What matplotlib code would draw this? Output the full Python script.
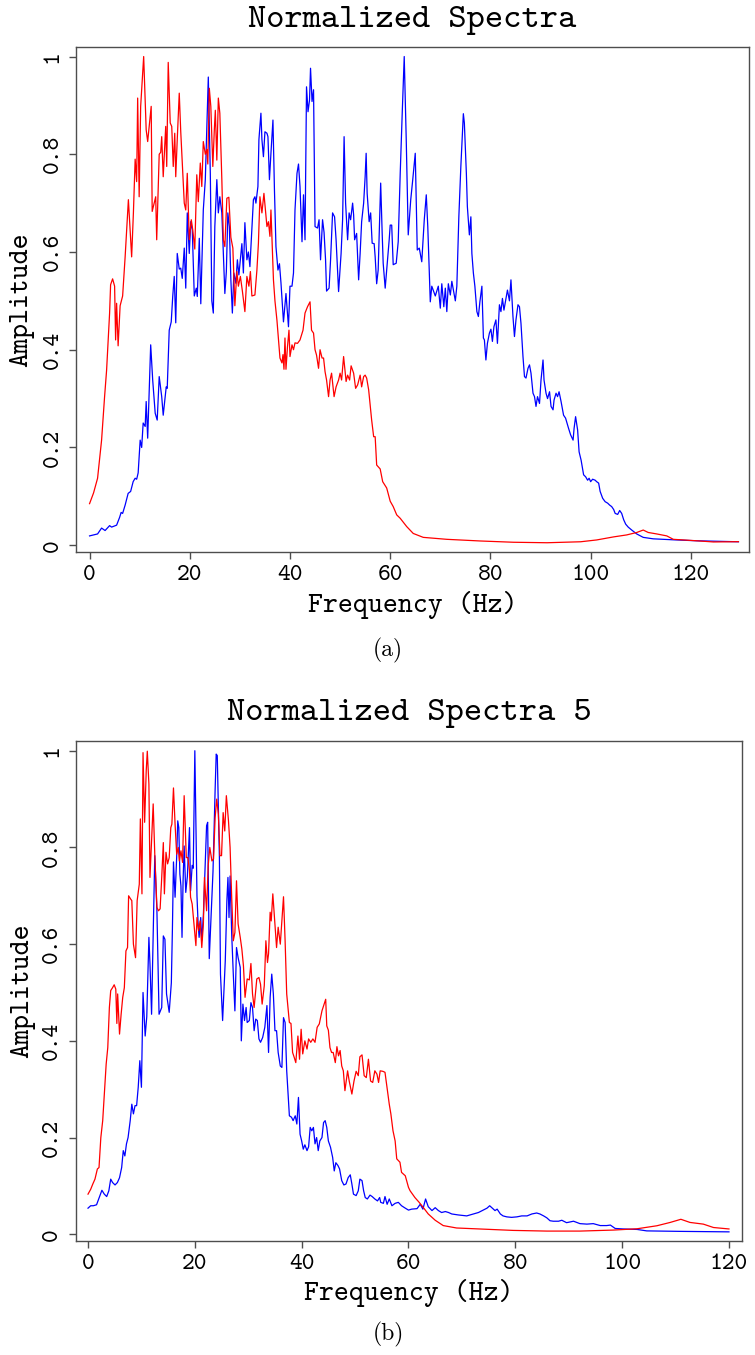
import numpy as np
import matplotlib
matplotlib.use("Agg")
import matplotlib.pyplot as plt

# ---- data (frequency in Hz, normalized amplitude) ----
# panel (a), red spectrum
a_red_f = [0.0, 0.8, 1.6, 2.4, 3.0, 3.4, 4.0, 4.2, 4.6, 5.0, 5.2, 5.4, 5.7, 6.1, 6.6, 7.1, 7.75, 8.4, 8.75, 9.1,
           9.4, 9.6, 9.9, 10.2, 10.8, 11.3, 11.6, 12.3, 12.5, 12.9, 13.2, 13.4, 13.9, 14.2, 14.4, 14.7, 15.2, 15.4,
           15.7, 16.1, 16.4, 16.7, 17.0, 17.2, 17.5, 17.9, 18.2, 18.5, 18.9, 19.2, 19.5, 19.9, 20.3, 20.6, 21.0,
           21.4, 21.7, 22.1, 22.4, 22.7, 23.1, 23.4, 23.6, 23.9, 24.2, 24.6, 24.9, 25.1, 25.4, 25.7, 26.0, 26.4,
           26.7, 27.0, 27.4, 27.8, 28.2, 28.6, 29.0, 29.4, 29.7, 30.1, 30.5, 31.0, 31.4, 31.8, 32.1, 32.4, 33.0,
           33.4, 33.7, 34.0, 34.4, 34.8, 35.4, 35.7, 36.0, 36.2, 36.7, 37.0, 37.4, 38.0, 38.4, 38.6, 38.8, 39.0,
           39.2, 39.5, 39.8, 40.0, 40.4, 40.7, 41.0, 41.5, 42.0, 42.6, 43.0, 43.5, 44.0, 44.3, 44.7, 45.0, 45.3,
           45.7, 46.0, 46.4, 46.7, 47.0, 47.3, 47.7, 48.0, 48.3, 48.8, 49.2, 49.7, 50.0, 50.3, 50.7, 51.2, 51.5,
           51.9, 52.2, 52.7, 53.1, 53.5, 54.0, 54.3, 54.7, 55.0, 55.3, 55.7, 56.0, 56.3, 56.7, 57.0, 57.3, 58.0,
           58.5, 59.3, 60.0, 60.6, 61.3, 62.0, 63.3, 64.6, 66.6, 71.3, 78.0, 84.6, 91.3, 98.0, 101.2, 104.6,
           107.2, 109.2, 110.5, 111.5, 113.2, 115.2, 116.5, 121.2, 124.5, 129.5]
a_red_v = [0.085, 0.107, 0.137, 0.215, 0.304, 0.358, 0.475, 0.533, 0.545, 0.53, 0.42, 0.495, 0.408, 0.49, 0.51,
           0.59, 0.707, 0.59, 0.68, 0.79, 0.744, 0.915, 0.713, 0.898, 1.0, 0.85, 0.826, 0.898, 0.683, 0.70, 0.713,
           0.625, 0.80, 0.804, 0.836, 0.754, 0.857, 0.775, 0.988, 0.864, 0.857, 0.775, 0.843, 0.754, 0.83, 0.925,
           0.846, 0.783, 0.70, 0.686, 0.761, 0.625, 0.666, 0.645, 0.606, 0.758, 0.703, 0.782, 0.734, 0.826, 0.80,
           0.81, 0.78, 0.935, 0.898, 0.775, 0.85, 0.89, 0.788, 0.915, 0.884, 0.748, 0.625, 0.611, 0.71, 0.712,
           0.63, 0.608, 0.49, 0.56, 0.53, 0.55, 0.52, 0.478, 0.55, 0.53, 0.56, 0.51, 0.512, 0.563, 0.618, 0.713,
           0.68, 0.72, 0.652, 0.662, 0.632, 0.686, 0.543, 0.50, 0.46, 0.383, 0.373, 0.39, 0.36, 0.424, 0.36,
           0.406, 0.44, 0.386, 0.41, 0.40, 0.414, 0.413, 0.42, 0.44, 0.475, 0.488, 0.498, 0.44, 0.434, 0.40,
           0.389, 0.362, 0.40, 0.383, 0.383, 0.355, 0.338, 0.304, 0.338, 0.352, 0.304, 0.324, 0.338, 0.352,
           0.338, 0.386, 0.335, 0.348, 0.338, 0.367, 0.352, 0.321, 0.328, 0.348, 0.324, 0.345, 0.348, 0.342,
           0.318, 0.287, 0.256, 0.222, 0.222, 0.164, 0.156, 0.13, 0.117, 0.09, 0.079, 0.062, 0.055, 0.038, 0.024,
           0.016, 0.012, 0.0086, 0.006, 0.005, 0.007, 0.0107, 0.017, 0.021, 0.026, 0.031, 0.026, 0.023, 0.019,
           0.012, 0.009, 0.0066, 0.0072]

# panel (a), blue spectrum
a_blue_f = [0.0, 0.8, 1.6, 2.4, 3.1, 4.0, 4.4, 5.4, 6.0, 6.3, 6.6, 7.1, 7.7, 8.2, 8.7, 9.1, 9.4, 9.7, 10.1, 10.4,
            10.7, 11.1, 11.3, 11.6, 11.9, 12.2, 12.6, 13.1, 13.5, 13.9, 14.4, 14.7, 15.3, 15.5, 15.9, 16.3, 16.6,
            16.9, 17.2, 17.5, 17.9, 18.2, 18.5, 18.9, 19.2, 19.5, 19.9, 20.2, 20.5, 20.9, 21.3, 21.5, 21.9, 22.2,
            22.7, 23.1, 23.4, 23.7, 24.1, 24.4, 24.7, 25.0, 25.4, 25.7, 26.0, 26.4, 26.7, 27.0, 27.3, 27.6, 27.9,
            28.2, 28.5, 28.8, 29.2, 29.5, 29.8, 30.2, 30.4, 30.7, 31.0, 31.4, 31.7, 32.0, 32.4, 32.7, 33.0, 33.2,
            33.6, 33.8, 34.2, 34.4, 34.7, 35.0, 35.4, 35.6, 35.9, 36.2, 36.6, 36.9, 37.2, 37.6, 37.9, 38.2, 38.7,
            39.2, 39.7, 40.0, 40.4, 40.7, 41.0, 41.4, 41.7, 42.0, 42.4, 42.7, 43.0, 43.3, 43.6, 43.9, 44.1, 44.4,
            44.7, 45.0, 45.5, 45.8, 46.1, 46.5, 46.8, 47.1, 47.3, 47.8, 48.1, 48.5, 48.9, 49.2, 49.7, 50.2, 50.5,
            50.8, 51.1, 51.5, 51.8, 52.1, 52.5, 52.7, 52.9, 53.3, 53.7, 54.0, 54.3, 54.7, 55.0, 55.2, 55.4, 55.8,
            56.1, 56.4, 56.8, 57.0, 57.3, 57.6, 58.1, 58.4, 58.6, 59.0, 59.4, 59.8, 60.0, 60.3, 60.6, 61.2, 61.6,
            62.0, 62.4, 62.8, 63.2, 63.6, 64.1, 64.5, 65.0, 65.4, 65.8, 66.3, 66.8, 67.2, 67.5, 68.0, 68.3, 69.0,
            69.6, 70.0, 70.3, 70.7, 71.0, 71.3, 71.6, 72.0, 72.3, 73.0, 73.3, 73.7, 74.1, 74.6, 74.8, 75.2, 75.4,
            75.8, 76.1, 76.3, 76.6, 76.9, 77.3, 77.6, 77.9, 78.3, 78.6, 78.8, 79.1, 79.4, 79.8, 80.1, 80.4, 80.7,
            81.1, 81.4, 81.8, 82.1, 82.4, 82.7, 83.1, 83.4, 83.8, 84.1, 84.5, 84.8, 85.1, 85.5, 85.8, 86.1, 86.5,
            86.8, 87.1, 87.5, 87.8, 88.1, 88.5, 88.8, 89.1, 89.4, 89.8, 90.1, 90.5, 90.7, 91.1, 91.4, 91.8, 92.1,
            92.5, 92.7, 93.1, 93.4, 93.7, 94.1, 94.6, 95.0, 95.6, 96.0, 96.5, 96.7, 97.0, 97.4, 97.7, 98.1, 98.6,
            99.0, 99.4, 99.7, 100.0, 100.4, 100.9, 101.2, 101.6, 101.9, 102.4, 102.9, 103.4, 103.8, 104.2, 104.6,
            104.9, 105.4, 105.8, 106.2, 106.6, 107.0, 107.5, 108.2, 109.2, 110.5, 112.5, 116.5, 121.2, 129.5]
a_blue_v = [0.019, 0.021, 0.023, 0.035, 0.03, 0.04, 0.037, 0.041, 0.057, 0.067, 0.065, 0.082, 0.106, 0.11, 0.13,
            0.137, 0.135, 0.148, 0.215, 0.20, 0.25, 0.243, 0.294, 0.219, 0.318, 0.41, 0.338, 0.27, 0.256, 0.345,
            0.304, 0.266, 0.324, 0.321, 0.44, 0.457, 0.509, 0.55, 0.455, 0.597, 0.565, 0.567, 0.546, 0.608, 0.526,
            0.68, 0.597, 0.662, 0.645, 0.51, 0.526, 0.509, 0.628, 0.494, 0.686, 0.748, 0.85, 0.958, 0.761, 0.50,
            0.475, 0.652, 0.748, 0.68, 0.713, 0.68, 0.597, 0.515, 0.56, 0.68, 0.652, 0.543, 0.475, 0.557, 0.536,
            0.584, 0.553, 0.597, 0.617, 0.557, 0.66, 0.584, 0.60, 0.57, 0.649, 0.707, 0.713, 0.70, 0.734, 0.83,
            0.884, 0.83, 0.795, 0.846, 0.843, 0.836, 0.748, 0.802, 0.87, 0.727, 0.611, 0.563, 0.576, 0.537, 0.457,
            0.515, 0.447, 0.53, 0.53, 0.557, 0.686, 0.761, 0.78, 0.734, 0.621, 0.717, 0.625, 0.938, 0.887, 0.911,
            0.976, 0.908, 0.932, 0.652, 0.649, 0.666, 0.584, 0.666, 0.64, 0.584, 0.52, 0.526, 0.584, 0.68, 0.672,
            0.625, 0.519, 0.597, 0.666, 0.836, 0.70, 0.625, 0.68, 0.666, 0.70, 0.676, 0.625, 0.638, 0.543, 0.597,
            0.662, 0.70, 0.754, 0.802, 0.72, 0.662, 0.68, 0.618, 0.617, 0.59, 0.535, 0.563, 0.741, 0.638, 0.577,
            0.526, 0.576, 0.625, 0.655, 0.655, 0.574, 0.577, 0.621, 0.761, 0.884, 1.0, 0.83, 0.635, 0.707, 0.748,
            0.802, 0.604, 0.608, 0.58, 0.666, 0.717, 0.652, 0.498, 0.53, 0.51, 0.53, 0.485, 0.535, 0.488, 0.526,
            0.478, 0.535, 0.512, 0.54, 0.50, 0.53, 0.672, 0.775, 0.883, 0.864, 0.761, 0.693, 0.635, 0.672, 0.597,
            0.557, 0.53, 0.478, 0.468, 0.498, 0.53, 0.424, 0.42, 0.379, 0.413, 0.434, 0.442, 0.417, 0.447, 0.461,
            0.413, 0.492, 0.478, 0.505, 0.481, 0.505, 0.522, 0.50, 0.543, 0.468, 0.427, 0.461, 0.492, 0.488, 0.454,
            0.386, 0.345, 0.342, 0.362, 0.369, 0.352, 0.311, 0.304, 0.284, 0.304, 0.29, 0.338, 0.379, 0.338, 0.311,
            0.30, 0.314, 0.284, 0.277, 0.297, 0.311, 0.304, 0.314, 0.294, 0.266, 0.26, 0.239, 0.226, 0.215, 0.239,
            0.263, 0.236, 0.191, 0.174, 0.144, 0.14, 0.133, 0.137, 0.13, 0.135, 0.133, 0.13, 0.127, 0.11, 0.096,
            0.089, 0.086, 0.082, 0.079, 0.073, 0.065, 0.063, 0.071, 0.065, 0.052, 0.043, 0.037, 0.031, 0.023,
            0.016, 0.013, 0.011, 0.009, 0.007]

# panel (b), red spectrum
b_red_f = [0.0, 0.5, 0.9, 1.3, 1.75, 2.06, 2.4, 2.75, 3.06, 3.4, 3.7, 4.0, 4.25, 4.6, 4.9, 5.2, 5.4, 5.55, 5.9,
           6.2, 6.5, 6.8, 7.1, 7.4, 7.6, 8.0, 8.2, 8.5, 8.9, 9.2, 9.6, 9.8, 10.1, 10.3, 10.6, 10.9, 11.1, 11.4,
           11.6, 11.9, 12.2, 12.5, 12.9, 13.2, 13.5, 13.8, 14.1, 14.3, 14.6, 14.9, 15.2, 15.5, 15.7, 16.0, 16.3,
           16.6, 16.9, 17.1, 17.4, 17.7, 18.0, 18.4, 18.7, 19.0, 19.2, 19.5, 19.9, 20.2, 20.4, 20.7, 21.0, 21.3,
           21.6, 21.8, 22.2, 22.5, 22.8, 23.2, 23.5, 23.8, 24.1, 24.4, 24.7, 25.0, 25.3, 25.6, 25.9, 26.3, 26.6,
           26.9, 27.2, 27.5, 27.8, 28.1, 28.5, 28.8, 29.1, 29.4, 29.8, 30.2, 30.5, 30.8, 31.1, 31.6, 32.0, 32.3,
           32.6, 33.0, 33.3, 33.6, 33.8, 34.1, 34.3, 34.6, 34.9, 35.3, 35.6, 36.0, 36.3, 36.6, 36.9, 37.2, 37.7,
           38.0, 38.3, 38.6, 38.9, 39.3, 39.6, 39.9, 40.2, 40.6, 41.0, 41.3, 41.7, 42.1, 42.5, 42.9, 43.3, 43.8,
           44.2, 44.5, 44.7, 45.0, 45.3, 45.6, 45.9, 46.3, 46.6, 46.9, 47.2, 47.5, 47.8, 48.1, 48.6, 48.9, 49.4,
           49.8, 50.2, 50.6, 50.9, 51.3, 51.7, 52.1, 52.5, 52.9, 53.3, 53.7, 54.1, 54.4, 54.7, 55.2, 55.6, 55.9,
           56.4, 56.7, 57.1, 57.5, 57.8, 58.4, 58.7, 59.4, 60.0, 60.3, 61.2, 62.0, 62.8, 63.7, 65.0, 66.5, 69.0,
           73.4, 79.6, 85.9, 92.1, 98.4, 102.8, 106.5, 109.0, 111.0, 112.7, 115.2, 117.1, 120.0]
b_red_v = [0.083, 0.093, 0.104, 0.114, 0.135, 0.138, 0.20, 0.235, 0.29, 0.352, 0.386, 0.469, 0.504, 0.51, 0.516,
           0.507, 0.436, 0.497, 0.414, 0.455, 0.49, 0.51, 0.586, 0.593, 0.70, 0.693, 0.69, 0.60, 0.572, 0.69, 0.724,
           0.859, 0.704, 0.996, 0.852, 0.959, 0.999, 0.931, 0.738, 0.814, 0.89, 0.786, 0.676, 0.669, 0.673, 0.738,
           0.81, 0.704, 0.79, 0.766, 0.779, 0.841, 0.848, 0.923, 0.848, 0.786, 0.80, 0.772, 0.793, 0.769, 0.907,
           0.779, 0.779, 0.752, 0.697, 0.683, 0.635, 0.597, 0.655, 0.628, 0.648, 0.593, 0.642, 0.738, 0.669, 0.762,
           0.80, 0.772, 0.776, 0.862, 0.90, 0.869, 0.783, 0.783, 0.872, 0.834, 0.907, 0.855, 0.80, 0.697, 0.607,
           0.624, 0.731, 0.642, 0.614, 0.59, 0.555, 0.49, 0.528, 0.526, 0.56, 0.497, 0.469, 0.528, 0.531, 0.517,
           0.476, 0.514, 0.607, 0.562, 0.58, 0.666, 0.648, 0.704, 0.655, 0.593, 0.635, 0.60, 0.648, 0.698, 0.607,
           0.497, 0.438, 0.436, 0.376, 0.366, 0.355, 0.41, 0.362, 0.424, 0.373, 0.40, 0.383, 0.404, 0.397, 0.404,
           0.397, 0.428, 0.435, 0.462, 0.476, 0.486, 0.431, 0.422, 0.386, 0.376, 0.376, 0.355, 0.388, 0.369, 0.38,
           0.348, 0.338, 0.297, 0.338, 0.317, 0.29, 0.317, 0.337, 0.328, 0.367, 0.371, 0.328, 0.324, 0.362, 0.317,
           0.314, 0.338, 0.331, 0.314, 0.338, 0.337, 0.335, 0.31, 0.269, 0.249, 0.214, 0.193, 0.156, 0.149, 0.128,
           0.121, 0.097, 0.09, 0.076, 0.066, 0.055, 0.042, 0.029, 0.018, 0.013, 0.011, 0.008, 0.0066, 0.0066,
           0.0087, 0.0114, 0.0176, 0.0245, 0.031, 0.0245, 0.021, 0.014, 0.011]

# panel (b), blue spectrum
b_blue_f = [0.0, 0.5, 1.0, 1.6, 2.1, 2.6, 3.05, 3.5, 3.9, 4.25, 4.6, 5.06, 5.5, 5.9, 6.3, 6.6, 6.9, 7.2, 7.5, 7.9,
            8.2, 8.5, 8.8, 9.1, 9.4, 9.7, 10.0, 10.3, 10.7, 11.0, 11.4, 11.6, 11.9, 12.5, 12.9, 13.3, 13.8, 14.1,
            14.4, 14.7, 15.2, 15.6, 15.8, 16.0, 16.3, 16.6, 16.8, 17.0, 17.2, 17.4, 17.6, 17.8, 18.0, 18.3, 18.6,
            19.0, 19.2, 19.5, 19.7, 20.0, 20.4, 20.6, 20.8, 21.1, 21.3, 21.6, 21.9, 22.2, 22.4, 22.7, 23.0, 23.4,
            23.8, 24.0, 24.2, 24.6, 24.8, 25.2, 25.7, 26.0, 26.2, 26.4, 26.6, 26.9, 27.2, 27.5, 27.8, 28.1, 28.5,
            28.7, 29.0, 29.3, 29.6, 29.8, 30.2, 30.5, 30.8, 31.1, 31.4, 31.7, 32.0, 32.3, 32.7, 33.1, 33.5, 33.8,
            34.1, 34.4, 34.7, 35.0, 35.3, 35.6, 36.0, 36.3, 36.6, 36.9, 37.2, 37.7, 38.1, 38.4, 38.8, 39.1, 39.4,
            39.7, 40.0, 40.3, 40.6, 41.0, 41.3, 41.6, 41.9, 42.2, 42.5, 42.8, 43.1, 43.4, 43.8, 44.1, 44.4, 44.7,
            45.0, 45.4, 45.8, 46.1, 46.4, 46.8, 47.1, 47.5, 47.9, 48.3, 48.7, 49.1, 49.4, 49.7, 50.2, 50.6, 50.9,
            51.3, 51.6, 51.9, 52.3, 52.8, 53.2, 53.7, 54.2, 54.6, 54.8, 55.3, 55.6, 56.0, 56.4, 56.9, 57.5, 58.1,
            58.7, 59.4, 60.0, 60.6, 61.6, 62.2, 62.7, 63.2, 63.7, 64.4, 65.0, 65.6, 66.2, 66.9, 67.5, 68.1, 69.3,
            70.9, 72.2, 73.1, 74.0, 74.7, 75.2, 75.8, 76.2, 76.6, 77.2, 77.7, 78.4, 79.3, 80.3, 81.2, 82.2, 83.1,
            84.0, 84.6, 85.3, 85.9, 86.5, 87.1, 88.1, 88.7, 89.6, 90.9, 92.1, 93.4, 94.6, 95.9, 97.1, 97.8, 98.7,
            100.2, 102.8, 104.6, 110.9, 120.0]
b_blue_v = [0.054, 0.059, 0.059, 0.061, 0.076, 0.091, 0.083, 0.078, 0.09, 0.114, 0.107, 0.102, 0.107, 0.117,
            0.138, 0.173, 0.162, 0.187, 0.20, 0.235, 0.269, 0.249, 0.266, 0.266, 0.304, 0.359, 0.304, 0.50, 0.41,
            0.45, 0.614, 0.559, 0.455, 0.783, 0.669, 0.455, 0.469, 0.617, 0.61, 0.497, 0.459, 0.52, 0.63, 0.77,
            0.697, 0.78, 0.855, 0.841, 0.745, 0.72, 0.614, 0.731, 0.803, 0.707, 0.74, 0.841, 0.71, 0.763, 0.757,
            1.0, 0.70, 0.645, 0.614, 0.655, 0.607, 0.66, 0.75, 0.845, 0.852, 0.57, 0.645, 0.75, 0.92, 0.993, 0.99,
            0.78, 0.538, 0.442, 0.566, 0.69, 0.738, 0.655, 0.741, 0.621, 0.538, 0.462, 0.593, 0.572, 0.552, 0.40,
            0.476, 0.442, 0.469, 0.438, 0.442, 0.479, 0.469, 0.421, 0.445, 0.442, 0.404, 0.397, 0.407, 0.428, 0.473,
            0.376, 0.49, 0.538, 0.497, 0.421, 0.421, 0.376, 0.348, 0.345, 0.448, 0.438, 0.338, 0.245, 0.242, 0.235,
            0.245, 0.228, 0.283, 0.207, 0.193, 0.176, 0.185, 0.173, 0.181, 0.221, 0.214, 0.221, 0.187, 0.20, 0.173,
            0.193, 0.20, 0.231, 0.235, 0.221, 0.193, 0.18, 0.159, 0.131, 0.148, 0.142, 0.135, 0.111, 0.102, 0.104,
            0.117, 0.123, 0.104, 0.083, 0.08, 0.09, 0.114, 0.111, 0.09, 0.076, 0.073, 0.081, 0.078, 0.073, 0.069,
            0.076, 0.066, 0.064, 0.078, 0.062, 0.073, 0.059, 0.064, 0.066, 0.059, 0.054, 0.05, 0.052, 0.053, 0.062,
            0.052, 0.073, 0.057, 0.049, 0.055, 0.049, 0.045, 0.047, 0.045, 0.042, 0.04, 0.038, 0.042, 0.045, 0.05,
            0.054, 0.059, 0.053, 0.049, 0.052, 0.042, 0.038, 0.036, 0.035, 0.036, 0.038, 0.038, 0.042, 0.044, 0.042,
            0.038, 0.034, 0.028, 0.027, 0.027, 0.029, 0.024, 0.027, 0.022, 0.021, 0.022, 0.018, 0.018, 0.019, 0.012,
            0.011, 0.01, 0.007, 0.006, 0.005]

titles = ["Normalized Spectra", "Normalized Spectra 5"]
captions = ["(a)", "(b)"]
xticks = [0, 20, 40, 60, 80, 100, 120]
yticks = [0, 0.2, 0.4, 0.6, 0.8, 1]
ytick_labels = ["0", "0.2", "0.4", "0.6", "0.8", "1"]

panels = [
    (a_blue_f, a_blue_v, a_red_f, a_red_v),
    (b_blue_f, b_blue_v, b_red_f, b_red_v),
]

# ---- layout ----
plt.rcParams["axes.unicode_minus"] = False
font = "cmtt10"
fig = plt.figure(figsize=(7.55, 13.55), dpi=100)

rects = [[0.1007, 0.5926, 0.8913, 0.3729], [0.1003, 0.0841, 0.8829, 0.3690]]
xlims = [(-2.7, 131.6), (-2.3, 122.5)]
title_y = [0.9852, 0.4738]
caption_y = [0.5203, 0.0148]
xlabel_y = [-0.105, -0.104]

for i, (bf, bv, rf, rv) in enumerate(panels):
    ax = fig.add_axes(rects[i])
    ax.plot(bf, bv, color="blue", linewidth=0.9)
    ax.plot(rf, rv, color="red", linewidth=0.9)

    ax.set_xlim(*xlims[i])
    ax.set_ylim(-0.014, 1.02)
    ax.set_xticks(xticks)
    ax.set_xticklabels([str(t) for t in xticks], fontfamily=font, fontsize=17.5)
    ax.set_yticks(yticks)
    ax.set_yticklabels(ytick_labels, fontfamily=font, fontsize=17.5,
                       rotation=90, va="center")
    ax.tick_params(direction="out", length=5, width=1.0, color="#4d4d4d", pad=4)

    for sp in ax.spines.values():
        sp.set_color("#4d4d4d")
        sp.set_linewidth(1.0)

    ax.set_xlabel("Frequency (Hz)", fontfamily=font, fontsize=20.5)
    ax.xaxis.set_label_coords(0.5, xlabel_y[i])
    ax.xaxis.label.set_va("center")
    ax.set_ylabel("Amplitude", fontfamily=font, fontsize=20.5)
    ax.yaxis.set_label_coords(-0.08, 0.5)
    ax.yaxis.label.set_va("center")

    cx = rects[i][0] + rects[i][2] / 2
    fig.text(cx, title_y[i], titles[i], fontfamily=font, fontsize=25,
             ha="center", va="center")
    fig.text(0.514, caption_y[i], captions[i], fontfamily="cmr10", fontsize=17,
             ha="center", va="center")

fig.savefig("out.png", dpi=100)
